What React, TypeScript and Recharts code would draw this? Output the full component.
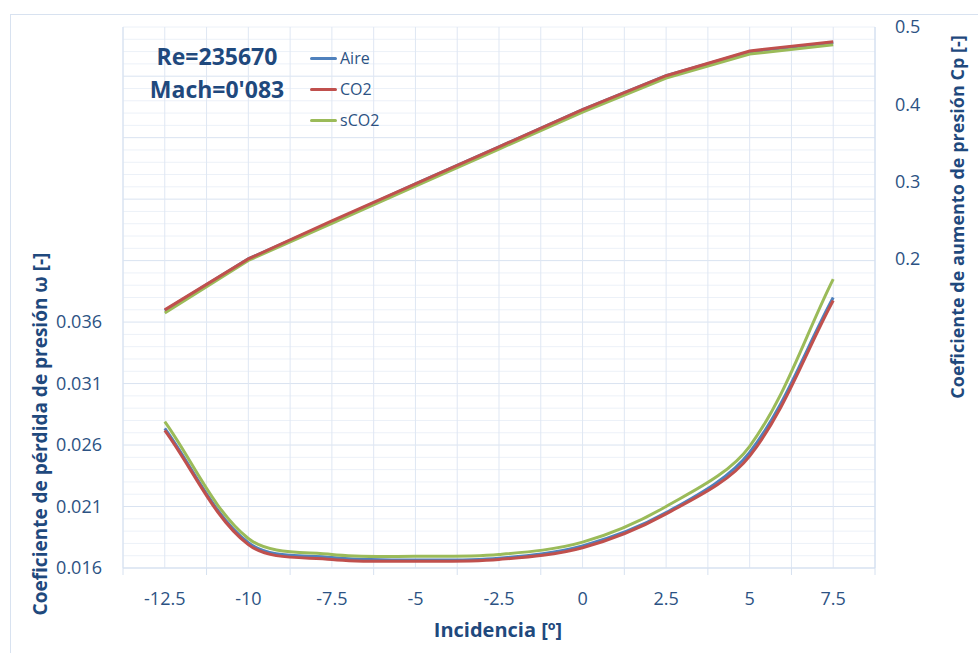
import { CartesianGrid, Legend, Line, LineChart, XAxis, YAxis } from "recharts";

const incidence = [-12.5, -10, -7.5, -5, -2.5, 0, 2.5, 5, 7.5];

// coeficiente de pérdida de presión (eje izquierdo)
const omegaAire = [0.02735, 0.01805, 0.01685, 0.01665, 0.0168, 0.0178, 0.0205, 0.0254, 0.038];
const omegaCO2 = [0.0272, 0.0179, 0.0167, 0.01655, 0.0167, 0.01765, 0.0204, 0.0251, 0.03775];
const omegaSCO2 = [0.0279, 0.0184, 0.0171, 0.01695, 0.0171, 0.0181, 0.021, 0.0259, 0.0395];

// coeficiente de aumento de presión Cp (eje derecho)
const cpAire = [0.133, 0.2, 0.248, 0.297, 0.345, 0.393, 0.437, 0.468, 0.48];
const cpCO2 = [0.134, 0.2, 0.249, 0.297, 0.345, 0.393, 0.437, 0.469, 0.481];
const cpSCO2 = [0.13, 0.198, 0.246, 0.294, 0.342, 0.39, 0.434, 0.465, 0.477];

const xTicks = [-13.75, -12.5, -11.25, -10, -8.75, -7.5, -6.25, -5, -3.75, -2.5, -1.25, 0, 1.25, 2.5, 3.75, 5, 6.25, 7.5, 8.75];
// major every 0.005 (labelled up to 0.036), minor every 0.001
const leftTicks = Array.from({ length: 45 }, (_, i) => Math.round((0.016 + i * 0.001) * 1000) / 1000);
const rightTicks = [0.2, 0.3, 0.4, 0.5];

const data = incidence.map((x, i) => ({
	x,
	omegaAire: omegaAire[i],
	omegaCO2: omegaCO2[i],
	omegaSCO2: omegaSCO2[i],
	cpAire: cpAire[i],
	cpCO2: cpCO2[i],
	cpSCO2: cpSCO2[i],
}));

const navy = "#1f497d";
const tickColor = "#2c5283";

const isMajor = (v: number) => Math.round((v - 0.016) * 1000) % 5 === 0;

// Excel-like smoothed line: bezier arms proportional to neighbouring segment lengths
function excelSmooth(context: any) {
	let pts: [number, number][] = [];
	return {
		areaStart() {},
		areaEnd() {},
		lineStart() {
			pts = [];
		},
		point(x: number, y: number) {
			pts.push([+x, +y]);
		},
		lineEnd() {
			const n = pts.length;
			if (!n) return;
			const dist = (a: [number, number], b: [number, number]) => Math.hypot(b[0] - a[0], b[1] - a[1]);
			const arms = pts.map((p, i) => {
				const prev = pts[Math.max(i - 1, 0)];
				const next = pts[Math.min(i + 1, n - 1)];
				const d0 = dist(prev, p);
				const d1 = dist(p, next);
				const s = d0 + d1 || 1;
				const tx = next[0] - prev[0];
				const ty = next[1] - prev[1];
				return {
					inX: p[0] - (tx * d0) / s / 3,
					inY: p[1] - (ty * d0) / s / 3,
					outX: p[0] + (tx * d1) / s / 3,
					outY: p[1] + (ty * d1) / s / 3,
				};
			});
			context.moveTo(pts[0][0], pts[0][1]);
			for (let i = 0; i < n - 1; i++) {
				context.bezierCurveTo(arms[i].outX, arms[i].outY, arms[i + 1].inX, arms[i + 1].inY, pts[i + 1][0], pts[i + 1][1]);
			}
		},
	};
}

function XTick(props: any) {
	const { x, y, payload } = props;
	const v = payload.value;
	if (incidence.includes(v)) {
		return (
			<text x={x} y={y + 30} textAnchor="middle" dominantBaseline="central" fill={tickColor} fontSize={18}>
				{v}
			</text>
		);
	}
	return <line x1={x} x2={x} y1={y} y2={y + 7} stroke="#d6e1f0" strokeWidth={1} />;
}

function GridRow(props: any) {
	const { x1, x2, y1, y2, index } = props;
	const major = isMajor(leftTicks[index] ?? 0);
	return <line x1={x1} x2={x2} y1={y1} y2={y2} stroke={major ? "#d9e3f1" : "#ecf1f8"} strokeWidth={1} />;
}

function LegendBox(props: any) {
	const items = (props.payload || []).filter((p: any) => p.type !== "none");
	return (
		<div style={{ display: "flex", flexDirection: "column", gap: 9 }}>
			{items.map((p: any) => (
				<div key={p.value} style={{ display: "flex", alignItems: "center", height: 22 }}>
					<span style={{ display: "inline-block", width: 27, height: 3, background: p.color, borderRadius: 2, marginRight: 3 }} />
					<span style={{ color: tickColor, fontSize: 16 }}>{p.value}</span>
				</div>
			))}
		</div>
	);
}

export default function App() {
	return (
		<div
			style={{
				position: "absolute",
				left: 0,
				top: 0,
				width: 978,
				height: 653,
				overflow: "hidden",
				background: "#fff",
				fontFamily: "'Open Sans', sans-serif",
			}}
		>
			<div style={{ position: "absolute", left: 10, top: 14, width: 1000, height: 700, border: "1px solid #d8e2f0" }} />
			<LineChart width={978} height={653} data={data} margin={{ top: 27, right: 43, bottom: 45, left: 43 }}>
				<CartesianGrid yAxisId="left" xAxisId="x" stroke="#dfe7f3" horizontal={(p: any) => <GridRow {...p} />} />
				<XAxis
					xAxisId="x"
					dataKey="x"
					type="number"
					domain={[-13.75, 8.75]}
					ticks={xTicks}
					interval={0}
					tick={<XTick />}
					tickLine={false}
					tickSize={0}
					tickMargin={0}
					height={40}
					axisLine={{ stroke: "#d6e1f0" }}
				/>
				<YAxis
					yAxisId="left"
					domain={[0.016, 0.06]}
					ticks={leftTicks}
					interval={0}
					width={80}
					tickLine={false}
					tickSize={0}
					tickMargin={21}
					axisLine={{ stroke: "#d6e1f0" }}
					tick={{ fill: tickColor, fontSize: 18 }}
					tickFormatter={(v: number) => (isMajor(v) && v <= 0.0365 ? v.toFixed(3) : "")}
				/>
				<YAxis
					yAxisId="right"
					orientation="right"
					domain={[-0.2, 0.5]}
					ticks={rightTicks}
					interval={0}
					width={60}
					tickLine={false}
					tickSize={0}
					tickMargin={20}
					axisLine={{ stroke: "#d0ddef" }}
					tick={{ fill: tickColor, fontSize: 18, textAnchor: "start" }}
				/>
				<Legend
					layout="vertical"
					verticalAlign="middle"
					align="center"
					content={<LegendBox />}
					wrapperStyle={{ left: 310, top: 47, width: 100 }}
				/>
				<Line xAxisId="x" yAxisId="left" name="Aire" type={excelSmooth as any} dataKey="omegaAire" stroke="#4f81bd" strokeWidth={3} dot={false} isAnimationActive={false} />
				<Line xAxisId="x" yAxisId="left" name="CO2" type={excelSmooth as any} dataKey="omegaCO2" stroke="#c0504d" strokeWidth={3} dot={false} isAnimationActive={false} />
				<Line xAxisId="x" yAxisId="left" name="sCO2" type={excelSmooth as any} dataKey="omegaSCO2" stroke="#9bbb59" strokeWidth={3} dot={false} isAnimationActive={false} />
				<Line xAxisId="x" yAxisId="right" name="Aire Cp" legendType="none" type="linear" dataKey="cpAire" stroke="#4f81bd" strokeWidth={3} dot={false} isAnimationActive={false} />
				<Line xAxisId="x" yAxisId="right" name="sCO2 Cp" legendType="none" type="linear" dataKey="cpSCO2" stroke="#9bbb59" strokeWidth={3} dot={false} isAnimationActive={false} />
				<Line xAxisId="x" yAxisId="right" name="CO2 Cp" legendType="none" type="linear" dataKey="cpCO2" stroke="#c0504d" strokeWidth={3} dot={false} isAnimationActive={false} />
			</LineChart>
			<div style={{ position: "absolute", left: 217, top: 56, transform: "translate(-50%, -50%)", color: navy, fontWeight: 700, fontSize: 23, whiteSpace: "nowrap" }}>
				Re=235670
			</div>
			<div style={{ position: "absolute", left: 217, top: 89, transform: "translate(-50%, -50%)", color: navy, fontWeight: 700, fontSize: 23, whiteSpace: "nowrap" }}>
				Mach=0'083
			</div>
			<div style={{ position: "absolute", left: 40, top: 434, transform: "translate(-50%, -50%) rotate(-90deg)", color: navy, fontWeight: 700, fontSize: 19, whiteSpace: "nowrap" }}>
				Coeficiente de pérdida de presión ω [-]
			</div>
			<div style={{ position: "absolute", left: 957, top: 217, transform: "translate(-50%, -50%) rotate(-90deg)", color: navy, fontWeight: 700, fontSize: 18, whiteSpace: "nowrap" }}>
				Coeficiente de aumento de presión Cp [-]
			</div>
			<div style={{ position: "absolute", left: 498, top: 629, transform: "translate(-50%, -50%)", color: navy, fontWeight: 700, fontSize: 20, whiteSpace: "nowrap" }}>
				Incidencia [º]
			</div>
		</div>
	);
}
